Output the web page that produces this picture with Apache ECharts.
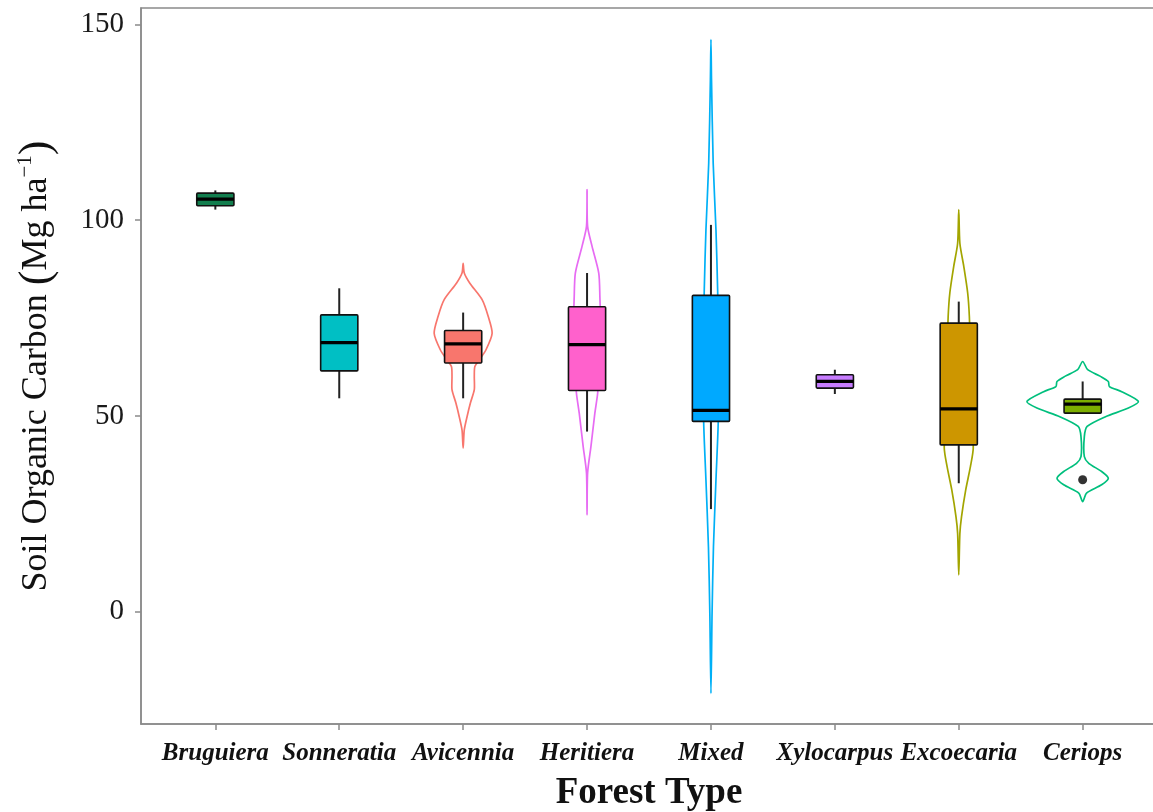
<!DOCTYPE html>
<html><head><meta charset="utf-8">
<script src="https://cdn.jsdelivr.net/npm/echarts@6/dist/echarts.min.js"></script>
<style>html,body{margin:0;padding:0;background:#fff}#c{width:1153px;height:812px}</style>
</head><body><div id="c"></div>
<script>
// ---- data ----
const categories = ['Bruguiera','Sonneratia','Avicennia','Heritiera','Mixed','Xylocarpus','Excoecaria','Ceriops'];
const whiskerLow  = [102.7, 54.5, 54.5, 46.0, 26.2, 55.6, 32.8, 50.7];
const q1          = [103.7, 61.5, 63.5, 56.5, 48.6, 57.1, 42.6, 50.7];
const median      = [105.4, 68.7, 68.4, 68.2, 51.4, 58.8, 51.8, 53.0];
const q3          = [106.9, 75.8, 71.8, 77.9, 80.8, 60.5, 73.7, 54.3];
const whiskerHigh = [107.6, 82.6, 76.4, 86.5, 98.8, 61.8, 79.2, 58.8];
const outlierPoints = [[8, 33.7]]; // [category number, value]
const yTicks = [0, 50, 100, 150];

// violin outlines: [value, relative density]
const violinAvicennia = [[89.0,0],[86.5,0.02],[83.9,0.12],[79.7,0.34],[75.4,0.45],[71.1,0.52],[66.9,0.41],[64.3,0.29],[62.6,0.21],[60.1,0.20],[56.7,0.20],[53.3,0.13],[49.8,0.07],[46.4,0.02],[41.8,0]];
const violinHeritiera = [[107.8,0],[98.4,0.01],[93.3,0.09],[86.5,0.21],[80.5,0.23],[67.7,0.25],[55.8,0.19],[50.7,0.14],[42.2,0.07],[35.4,0.01],[24.7,0]];
const violinMixed = [[146.1,0],[135.9,0.01],[114.6,0.04],[97.5,0.09],[82.2,0.12],[65.0,0.14],[48.1,0.13],[33.7,0.09],[16.6,0.045],[-0.4,0.02],[-20.9,0]];
const violinExcoecaria = [[102.7,0],[94.1,0.02],[88.2,0.09],[81.4,0.16],[75.4,0.19],[62.6,0.22],[41.8,0.26],[37.1,0.21],[31.1,0.125],[24.3,0.05],[20.0,0.02],[9.4,0]];
const violinCeriops = [[63.9,0],[61.8,0.09],[60.1,0.32],[58.8,0.46],[57.5,0.48],[56.2,0.70],[53.7,1.0],[52.0,0.82],[49.8,0.41],[47.3,0.08],[44.7,0.03],[39.6,0.03],[37.9,0.11],[35.8,0.34],[34.1,0.46],[32.4,0.34],[30.3,0.07],[28.1,0]];

// ---- styles ----
const boxColors = ['#127E4E','#00BFC4','#F8766D','#FF61CC','#00A9FF','#C77CFF','#CD9600','#7CAE00'];
const violinColors = {3:'#F8766D', 4:'#E76BF3', 5:'#00B0F6', 7:'#A3A500', 8:'#00BF7D'};
const violinProfiles = {3:violinAvicennia, 4:violinHeritiera, 5:violinMixed, 7:violinExcoecaria, 8:violinCeriops};
const VIOLIN_HALF = 0.45;
const BOX_W = 0.3;
const FONT = '"Liberation Serif","Times New Roman",serif';
const AX = '#8a8a8a';

const catNums = categories.map((c,i)=>i+1);

const chart = echarts.init(document.getElementById('c'), null, {renderer:'canvas'});
const option = {
  backgroundColor:'#fff',
  animation:false,
  grid:{left:141, right:-4, top:8, bottom:88, show:true, borderColor:AX, borderWidth:1.5, containLabel:false, outerBoundsMode:'none'},
  xAxis:{
    type:'value', min:0.4, max:8.6,
    splitLine:{show:false},
    axisLine:{show:true, onZero:false, lineStyle:{color:AX, width:1.5}},
    axisTick:{show:true, length:6, lineStyle:{color:AX, width:1.5}, customValues:catNums},
    axisLabel:{customValues:catNums, margin:17, formatter:v=>categories[Math.round(v)-1]||'',
      fontFamily:FONT, fontSize:25, fontWeight:'bold', fontStyle:'italic', color:'#111'},
    name:'Forest Type', nameLocation:'middle', nameGap:51,
    nameTextStyle:{fontFamily:FONT, fontSize:37, fontWeight:'bold', color:'#111'}
  },
  yAxis:{
    type:'value', min:-28.7, max:154.2,
    splitLine:{show:false},
    axisLine:{show:true, onZero:false, lineStyle:{color:AX, width:1.5}},
    axisTick:{show:true, length:6, lineStyle:{color:AX, width:1.5}, customValues:yTicks},
    axisLabel:{customValues:yTicks, margin:17, fontFamily:FONT, fontSize:29, color:'#1a1a1a'},
    name:'Soil Organic Carbon {p|(}Mg ha{sup|\u22121}{p|)}', nameLocation:'middle', nameGap:82, nameRotate:90,
    nameTextStyle:{fontFamily:FONT, fontSize:36, color:'#111',
      rich:{
        p:{fontFamily:FONT, fontSize:44, color:'#111'},
        sup:{fontFamily:FONT, fontSize:21, color:'#111', verticalAlign:'top', lineHeight:21, padding:[0,0,18,0]}
      }}
  },
  series:[
    {
      type:'custom', name:'violin', z:1,
      data:Object.keys(violinProfiles).map(k=>[Number(k)]),
      encode:{x:0},
      renderItem:function(params, api){
        const idx = api.value(0);
        const prof = violinProfiles[idx];
        const pts = [];
        for (let k=0;k<prof.length;k++) pts.push(api.coord([idx + prof[k][1]*VIOLIN_HALF, prof[k][0]]));
        for (let k=prof.length-2;k>=1;k--) pts.push(api.coord([idx - prof[k][1]*VIOLIN_HALF, prof[k][0]]));
        return {type:'polygon', shape:{points:pts, smooth:0.25}, style:{fill:'none', stroke:violinColors[idx], lineWidth:1.7}};
      }
    },
    {
      type:'custom', name:'box', z:2,
      data:categories.map((c,i)=>[i+1, whiskerLow[i], q1[i], median[i], q3[i], whiskerHigh[i]]),
      encode:{x:0, y:[1,2,3,4,5]},
      renderItem:function(params, api){
        const x = api.value(0);
        const i = params.dataIndex;
        const pLo = api.coord([x, api.value(1)]);
        const pQ1 = api.coord([x, api.value(2)]);
        const pQ3 = api.coord([x, api.value(4)]);
        const pHi = api.coord([x, api.value(5)]);
        const tl = api.coord([x - BOX_W/2, api.value(4)]);
        const br = api.coord([x + BOX_W/2, api.value(2)]);
        const mL = api.coord([x - BOX_W/2, api.value(3)]);
        const mR = api.coord([x + BOX_W/2, api.value(3)]);
        return {type:'group', children:[
          {type:'line', shape:{x1:pLo[0], y1:pLo[1], x2:pQ1[0], y2:pQ1[1]}, style:{stroke:'#222', lineWidth:2}},
          {type:'line', shape:{x1:pHi[0], y1:pHi[1], x2:pQ3[0], y2:pQ3[1]}, style:{stroke:'#222', lineWidth:2}},
          {type:'rect', shape:{x:tl[0], y:tl[1], width:br[0]-tl[0], height:br[1]-tl[1], r:1}, style:{fill:boxColors[i], stroke:'#111', lineWidth:1.6}},
          {type:'line', shape:{x1:mL[0], y1:mL[1], x2:mR[0], y2:mR[1]}, style:{stroke:'#000', lineWidth:3.2}}
        ]};
      }
    },
    {
      type:'scatter', name:'outlier', z:3,
      data:outlierPoints, symbolSize:9, itemStyle:{color:'#000'}
    }
  ]
};
chart.setOption(option);
</script>
</body></html>
